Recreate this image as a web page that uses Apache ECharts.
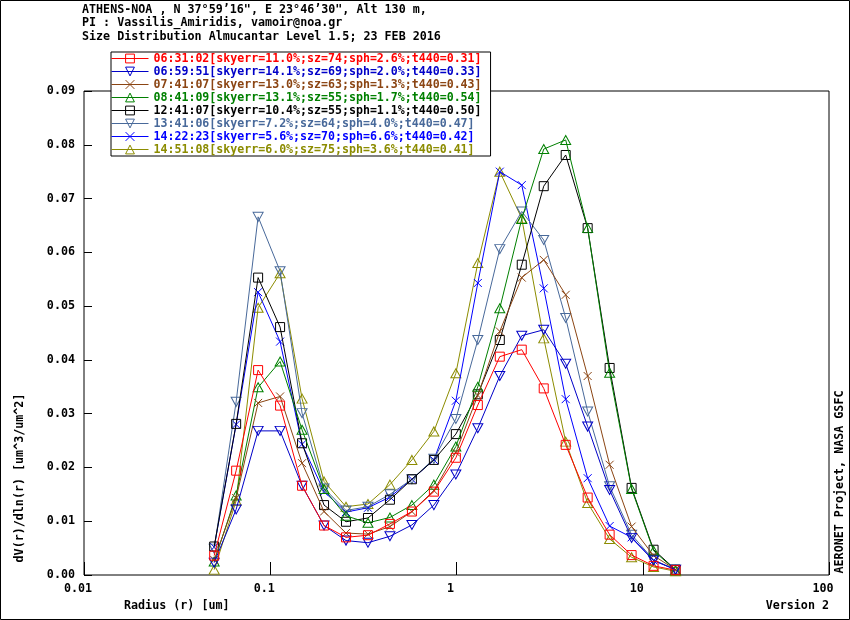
<!DOCTYPE html>
<html>
<head>
<meta charset="utf-8">
<script src="https://cdn.jsdelivr.net/npm/echarts@6/dist/echarts.min.js"></script>
<style>
  html, body { margin: 0; padding: 0; background: #fff; }
  #chart { width: 850px; height: 620px; }
</style>
</head>
<body>
<div id="chart"></div>
<script>
var FONT = '"DejaVu Sans Mono", monospace';

// radius bins [um]
var radius = [0.050000, 0.065604, 0.086077, 0.112939, 0.148184, 0.194429, 0.255105, 0.334716,
  0.439173, 0.576227, 0.756052, 0.991996, 1.301571, 1.707757, 2.240702, 2.939966,
  3.857452, 5.061260, 6.640745, 8.713145, 11.432287, 15.000000];

var xTickLabels = ['0.01', '0.1', '1', '10', '100'];

var names = [
  '06:31:02[skyerr=11.0%;sz=74;sph=2.6%;t440=0.31]',
  '06:59:51[skyerr=14.1%;sz=69;sph=2.0%;t440=0.33]',
  '07:41:07[skyerr=13.0%;sz=63;sph=1.3%;t440=0.43]',
  '08:41:09[skyerr=13.1%;sz=55;sph=1.7%;t440=0.54]',
  '12:41:07[skyerr=10.4%;sz=55;sph=1.1%;t440=0.50]',
  '13:41:06[skyerr=7.2%;sz=64;sph=4.0%;t440=0.47]',
  '14:22:23[skyerr=5.6%;sz=70;sph=6.6%;t440=0.42]',
  '14:51:08[skyerr=6.0%;sz=75;sph=3.6%;t440=0.41]'
];

var v0631 = [0.0036, 0.0194, 0.0381, 0.0315, 0.0166, 0.0092, 0.0070, 0.0074, 0.0095, 0.0118, 0.0155,
  0.0218, 0.0316, 0.0406, 0.0419, 0.0347, 0.0242, 0.0144, 0.0075, 0.0037, 0.0017, 0.0009];
var v0659 = [0.0023, 0.0122, 0.0268, 0.0268, 0.0166, 0.0092, 0.0064, 0.0060, 0.0072, 0.0093, 0.0130,
  0.0187, 0.0273, 0.0370, 0.0445, 0.0456, 0.0393, 0.0276, 0.0158, 0.0069, 0.0027, 0.0010];
var v0741 = [0.0028, 0.0143, 0.0320, 0.0332, 0.0208, 0.0118, 0.0078, 0.0076, 0.0090, 0.0118, 0.0157,
  0.0228, 0.0334, 0.0453, 0.0553, 0.0586, 0.0521, 0.0370, 0.0205, 0.0090, 0.0036, 0.0010];
var v0841 = [0.0025, 0.0148, 0.0349, 0.0397, 0.0270, 0.0160, 0.0110, 0.0097, 0.0107, 0.0130, 0.0168,
  0.0239, 0.0350, 0.0496, 0.0662, 0.0792, 0.0809, 0.0645, 0.0376, 0.0160, 0.0045, 0.0009];
var v1241 = [0.0053, 0.0281, 0.0553, 0.0461, 0.0245, 0.0130, 0.0099, 0.0106, 0.0140, 0.0178, 0.0214,
  0.0262, 0.0336, 0.0437, 0.0577, 0.0723, 0.0781, 0.0645, 0.0385, 0.0162, 0.0047, 0.0010];
var v1341 = [0.0049, 0.0322, 0.0666, 0.0565, 0.0301, 0.0161, 0.0120, 0.0127, 0.0150, 0.0178, 0.0216,
  0.0290, 0.0437, 0.0606, 0.0676, 0.0623, 0.0478, 0.0304, 0.0165, 0.0075, 0.0028, 0.0010];
var v1422 = [0.0052, 0.0280, 0.0526, 0.0434, 0.0243, 0.0155, 0.0117, 0.0125, 0.0145, 0.0178, 0.0214,
  0.0324, 0.0543, 0.0750, 0.0725, 0.0533, 0.0327, 0.0180, 0.0091, 0.0070, 0.0027, 0.0010];
var v1451 = [0.0010, 0.0138, 0.0497, 0.0561, 0.0328, 0.0174, 0.0127, 0.0132, 0.0168, 0.0214, 0.0267,
  0.0375, 0.0580, 0.0750, 0.0663, 0.0440, 0.0248, 0.0134, 0.0067, 0.0033, 0.0015, 0.0007];

var values = [v0631, v0659, v0741, v0841, v1241, v1341, v1422, v1451];
var colors = ['#ff0000', '#0000c8', '#8b4513', '#008000', '#000000', '#48699a', '#0000ff', '#8c8c00'];

var SQ = 'path://M0 0H10V10H0Z';
var UP = 'path://M5 0L10 10H0Z';
var DN = 'path://M0 0H10L5 10Z';
var XX = 'path://M0 0L10 10M10 0L0 10';
var symbols = [SQ, DN, XX, UP, SQ, DN, XX, UP];

var series = values.map(function (vals, i) {
  return {
    name: names[i],
    type: 'line',
    data: vals.map(function (v, j) { return [radius[j], v]; }),
    symbol: symbols[i],
    symbolSize: symbols[i] === XX ? 8 : (symbols[i] === SQ ? 9 : [10, 9]),
    showAllSymbol: true,
    color: colors[i],
    lineStyle: { color: colors[i], width: 1 },
    itemStyle: { color: 'transparent', borderColor: colors[i], borderWidth: 1 },
    emphasis: { disabled: true },
    z: 10 - i
  };
});

var myChart = echarts.init(document.getElementById('chart'));

var option = {
  animation: false,
  backgroundColor: '#fff',
  title: {
    text: 'ATHENS-NOA , N 37°59’16", E 23°46’30", Alt 130 m,\nPI : Vassilis_Amiridis, vamoir@noa.gr\nSize Distribution Almucantar Level 1.5; 23 FEB 2016',
    left: 82,
    top: 3,
    padding: 0,
    textStyle: { fontFamily: FONT, fontWeight: 'bold', fontSize: 11.7, lineHeight: 13.5, color: '#000' }
  },
  legend: {
    orient: 'vertical',
    left: 111,
    top: 52,
    padding: [0, 9, 0, 0],
    itemGap: 0,
    itemWidth: 37,
    itemHeight: 11,
    backgroundColor: '#fff',
    borderColor: '#000',
    borderWidth: 1,
    selectedMode: false,
    itemStyle: { borderWidth: 1 },
    lineStyle: { width: 1 },
    textStyle: { fontFamily: FONT, fontWeight: 'bold', fontSize: 11.6, lineHeight: 13 },
    data: names.map(function (n, i) {
      return { name: n, textStyle: { color: colors[i] } };
    })
  },
  grid: {
    left: 84,
    right: 21,
    top: 91,
    bottom: 45,
    show: true,
    borderColor: '#000',
    borderWidth: 1,
    containLabel: false
  },
  xAxis: {
    type: 'log',
    logBase: 10,
    min: 0.01,
    max: 100,
    axisLine: { show: false },
    axisTick: { show: true, inside: true, length: 13, lineStyle: { color: '#000' } },
    minorTick: { show: false },
    splitLine: { show: false },
    axisLabel: {
      margin: 8,
      padding: [0, 12, 0, 0],
      color: '#000',
      fontFamily: FONT,
      fontWeight: 'bold',
      fontSize: 11.7,
      formatter: function (v) {
        return xTickLabels[Math.round(Math.log10(v)) + 2];
      }
    }
  },
  yAxis: {
    type: 'value',
    min: 0,
    max: 0.09,
    interval: 0.01,
    axisLine: { show: false },
    axisTick: { show: true, inside: true, length: 8, lineStyle: { color: '#000' } },
    splitLine: { show: false },
    axisLabel: {
      margin: 9,
      color: '#000',
      fontFamily: FONT,
      fontWeight: 'bold',
      fontSize: 11.7,
      formatter: function (v) { return v.toFixed(2); }
    }
  },
  graphic: [
    {
      type: 'rect',
      shape: { x: 0.5, y: 0.5, width: 849, height: 619 },
      style: { fill: 'none', stroke: '#000', lineWidth: 1 },
      silent: true
    },
    {
      type: 'text',
      left: 124,
      top: 600,
      style: { text: 'Radius (r) [um]', font: 'bold 11.7px ' + FONT, fill: '#000' }
    },
    {
      type: 'text',
      right: 21,
      top: 600,
      style: { text: 'Version 2', font: 'bold 11.7px ' + FONT, fill: '#000' }
    },
    {
      type: 'text',
      x: 20,
      y: 478,
      rotation: Math.PI / 2,
      style: {
        text: 'dV(r)/dln(r) [um^3/um^2]', font: 'bold 11.7px ' + FONT, fill: '#000',
        align: 'center', verticalAlign: 'middle'
      }
    },
    {
      type: 'text',
      x: 840,
      y: 482,
      rotation: Math.PI / 2,
      style: {
        text: 'AERONET Project, NASA GSFC', font: 'bold 11.7px ' + FONT, fill: '#000',
        align: 'center', verticalAlign: 'middle'
      }
    }
  ],
  series: series
};

myChart.setOption(option);
</script>
</body>
</html>
